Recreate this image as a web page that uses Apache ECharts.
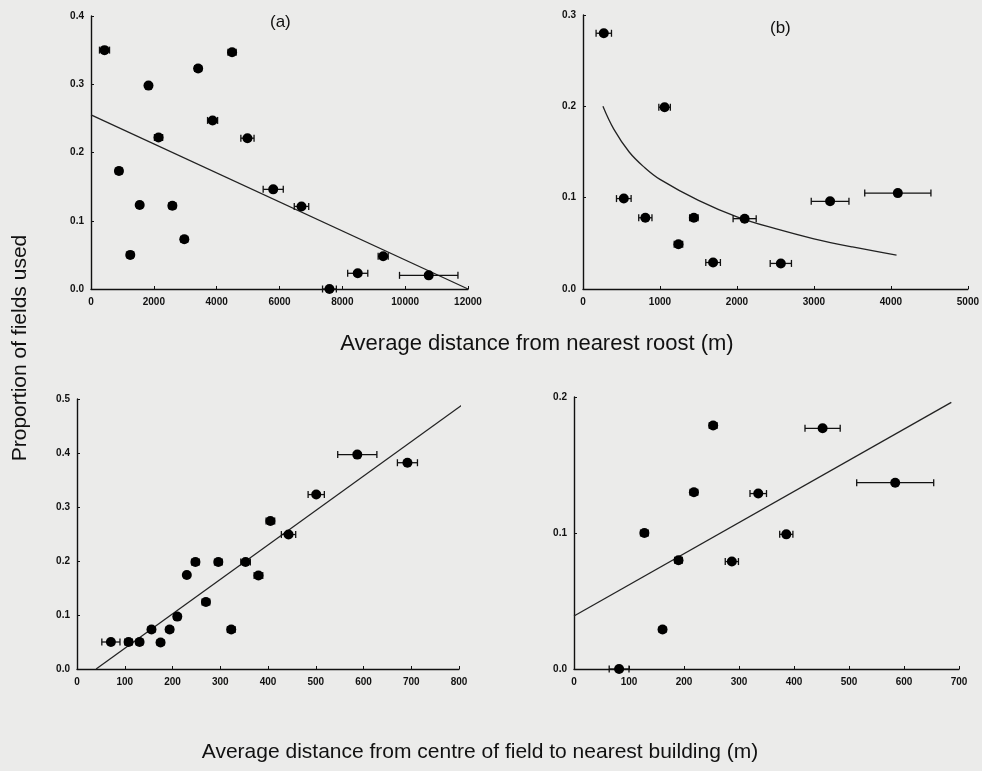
<!DOCTYPE html>
<html>
<head>
<meta charset="utf-8">
<script src="https://cdn.jsdelivr.net/npm/echarts@6/dist/echarts.min.js"></script>
<style>
html,body{margin:0;padding:0;background:#ebebea;}
#chart{width:982px;height:771px;}
</style>
</head>
<body>
<div id="chart"></div>
<script>
// Panel (a): distance from nearest roost
const aX = [430, 4490, 3410, 1830, 3870, 2150, 4980, 890, 5800, 1550, 2590, 6700, 2970, 1250, 9300, 8490, 10750, 7590];
const aY = [0.350, 0.347, 0.323, 0.298, 0.247, 0.222, 0.221, 0.173, 0.146, 0.123, 0.122, 0.121, 0.073, 0.050, 0.048, 0.023, 0.020, 0.000];
const aErr = [160, 130, 110, 90, 160, 130, 210, 110, 320, 90, 110, 230, 110, 100, 160, 320, 930, 220];
const aLineX = [0, 12000];
const aLineY = [0.255, 0.0];

// Panel (b): distance from nearest roost
const bX = [270, 1060, 530, 810, 1440, 2100, 1240, 1690, 2570, 3210, 4090];
const bY = [0.280, 0.199, 0.099, 0.078, 0.078, 0.077, 0.049, 0.029, 0.028, 0.096, 0.105];
const bErr = [100, 75, 95, 86, 55, 150, 55, 95, 138, 245, 430];
const bCurveX = [259, 400, 600, 800, 1000, 1500, 2000, 2500, 3000, 3500, 4073];
const bCurveY = [0.200, 0.175, 0.150, 0.133, 0.120, 0.097, 0.079, 0.066, 0.055, 0.046, 0.037];

// Panel (c): distance from centre of field to nearest building
const cX = [71, 108, 131, 156, 175, 194, 210, 230, 248, 296, 270, 323, 353, 380, 405, 443, 501, 587, 692];
const cY = [0.050, 0.050, 0.050, 0.073, 0.049, 0.073, 0.097, 0.174, 0.198, 0.198, 0.124, 0.073, 0.198, 0.173, 0.274, 0.249, 0.323, 0.397, 0.382];
const cErr = [19, 8, 7, 7, 7, 7, 7, 5, 8, 8, 8, 8, 10, 9, 9, 15, 17, 41, 21];
const cLineX = [40, 805];
const cLineY = [0.0, 0.488];

// Panel (d): distance from centre of field to nearest building
const dX = [82, 253, 452, 584, 218, 335, 128, 386, 190, 287, 161];
const dY = [0.000, 0.179, 0.177, 0.137, 0.130, 0.129, 0.100, 0.099, 0.080, 0.079, 0.029];
const dErr = [18, 7, 32, 70, 7, 15, 7, 12, 7, 12, 6];
const dLineX = [0, 686];
const dLineY = [0.039, 0.196];

// Axis ranges / tick intervals
const xMax = [12000, 5000, 800, 700];
const xInt = [2000, 1000, 100, 100];
const yMax = [0.4, 0.3, 0.5, 0.2];
const yInt = [0.1, 0.1, 0.1, 0.1];

const panelLabels = ['(a)', '(b)'];
const yTitle = 'Proportion of fields used';
const xTitleTop = 'Average distance from nearest roost (m)';
const xTitleBottom = 'Average distance from centre of field to nearest building (m)';

const ink = '#111111';
const tickFont = {color: ink, fontSize: 10, fontWeight: 'bold', fontFamily: 'Liberation Sans, Arial, sans-serif'};

const grids = [
  {left: 91, top: 16, width: 377, height: 273},
  {left: 583, top: 15, width: 387, height: 274},
  {left: 77, top: 399, width: 382, height: 270},
  {left: 574, top: 397, width: 385, height: 272}
];

const xAxes = grids.map((g, i) => ({
  type: 'value', gridIndex: i, min: 0, max: xMax[i], interval: xInt[i],
  axisLine: {show: true, onZero: false, lineStyle: {color: ink, width: 1.4}},
  axisTick: {show: true, inside: true, length: 3, lineStyle: {color: ink}},
  axisLabel: Object.assign({margin: 8, formatter: v => String(v)}, tickFont),
  splitLine: {show: false}
}));
const yAxes = grids.map((g, i) => ({
  type: 'value', gridIndex: i, min: 0, max: yMax[i], interval: yInt[i],
  axisLine: {show: true, onZero: false, lineStyle: {color: ink, width: 1.4}},
  axisTick: {show: true, inside: true, length: 3, lineStyle: {color: ink}},
  axisLabel: Object.assign({margin: 7, formatter: v => v.toFixed(1)}, tickFont),
  splitLine: {show: false}
}));

function zip(xs, ys) { return xs.map((x, i) => [x, ys[i]]); }
function zip3(xs, ys, es) { return xs.map((x, i) => [x, ys[i], es[i]]); }

function errSeries(idx, xs, ys, es) {
  return {
    type: 'custom', xAxisIndex: idx, yAxisIndex: idx, z: 3,
    data: zip3(xs, ys, es),
    encode: {x: 0, y: 1},
    clip: false,
    renderItem: function (params, api) {
      const x = api.value(0), y = api.value(1), e = api.value(2);
      const p0 = api.coord([x - e, y]);
      const p1 = api.coord([x + e, y]);
      const h = 3.5;
      const st = {stroke: ink, lineWidth: 1.3};
      return {
        type: 'group',
        children: [
          {type: 'line', shape: {x1: p0[0], y1: p0[1], x2: p1[0], y2: p1[1]}, style: st},
          {type: 'line', shape: {x1: p0[0], y1: p0[1] - h, x2: p0[0], y2: p0[1] + h}, style: st},
          {type: 'line', shape: {x1: p1[0], y1: p1[1] - h, x2: p1[0], y2: p1[1] + h}, style: st}
        ]
      };
    }
  };
}
function ptSeries(idx, xs, ys) {
  return {
    type: 'scatter', xAxisIndex: idx, yAxisIndex: idx, z: 4,
    symbol: 'circle', symbolSize: 10, clip: false,
    itemStyle: {color: '#000', opacity: 1},
    data: zip(xs, ys)
  };
}
function lineSeries(idx, xs, ys, smooth) {
  return {
    type: 'line', xAxisIndex: idx, yAxisIndex: idx, z: 2,
    showSymbol: false, smooth: smooth ? 0.4 : false, clip: false,
    lineStyle: {color: '#222', width: 1.3},
    data: zip(xs, ys)
  };
}

const option = {
  backgroundColor: '#ebebea',
  animation: false,
  grid: grids,
  xAxis: xAxes,
  yAxis: yAxes,
  series: [
    lineSeries(0, aLineX, aLineY, false),
    errSeries(0, aX, aY, aErr), ptSeries(0, aX, aY),
    lineSeries(1, bCurveX, bCurveY, true),
    errSeries(1, bX, bY, bErr), ptSeries(1, bX, bY),
    lineSeries(2, cLineX, cLineY, false),
    errSeries(2, cX, cY, cErr), ptSeries(2, cX, cY),
    lineSeries(3, dLineX, dLineY, false),
    errSeries(3, dX, dY, dErr), ptSeries(3, dX, dY)
  ],
  graphic: [
    {type: 'text', left: 270, top: 14, style: {text: panelLabels[0], fill: ink, font: '17px "Liberation Sans", Arial, sans-serif'}},
    {type: 'text', left: 770, top: 20, style: {text: panelLabels[1], fill: ink, font: '17px "Liberation Sans", Arial, sans-serif'}},
    {type: 'text', x: 20, y: 348, rotation: Math.PI / 2,
      style: {text: yTitle, fill: ink, align: 'center', verticalAlign: 'middle', font: '21px "Liberation Sans", Arial, sans-serif'}},
    {type: 'text', x: 537, y: 344,
      style: {text: xTitleTop, fill: ink, align: 'center', verticalAlign: 'middle', font: '22px "Liberation Sans", Arial, sans-serif'}},
    {type: 'text', x: 480, y: 752,
      style: {text: xTitleBottom, fill: ink, align: 'center', verticalAlign: 'middle', font: '21px "Liberation Sans", Arial, sans-serif'}}
  ]
};

const chart = echarts.init(document.getElementById('chart'), null, {renderer: 'canvas'});
chart.setOption(option);
</script>
</body>
</html>
